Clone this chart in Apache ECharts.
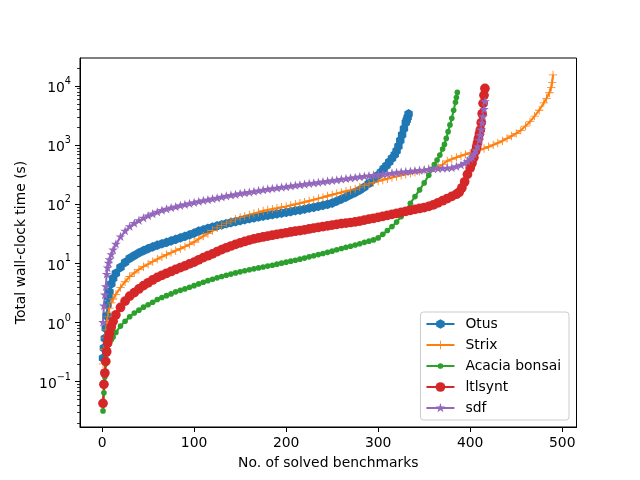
<!DOCTYPE html>
<html>
<head>
<meta charset="utf-8">
<script src="https://cdn.jsdelivr.net/npm/echarts@6/dist/echarts.min.js"></script>
<style>html,body{margin:0;padding:0;background:#fff}#c{width:640px;height:480px}</style>
</head>
<body>
<div id="c"></div>
<script>
const xTicks = [0, 100, 200, 300, 400, 500];
const yTicks = [0.1, 1, 10, 100, 1000, 10000];
const seriesNames = ['Otus', 'Strix', 'Acacia bonsai', 'ltlsynt', 'sdf'];

const otus = [[1,0.25],[2,0.37],[3,0.54],[4,0.8],[5,1.3],[6,2.0],[7,2.7],[8,3.3],[10,4.5],[12,5.6],[15,6.8],[20,8.6],[25,10.4],[30,12.2],[35,13.6],[40,15.1],[45,16.4],[50,17.8],[55,19],[60,20.3],[65,21.5],[70,22.7],[75,24],[80,25.5],[85,27],[90,28.6],[95,30.4],[100,32.5],[105,35],[110,37],[115,39],[120,41],[125,43],[130,45],[135,47],[140,49],[145,51],[150,53],[155,55],[160,57],[165,59],[170,61],[175,63],[180,65],[185,67],[190,69],[195,71],[200,73],[205,75],[210,78],[215,80],[220,83],[225,86],[230,89],[235,92],[240,96],[245,100],[250,105],[255,113],[260,122],[265,132],[270,145],[275,158],[280,174],[285,195],[290,225],[295,265],[300,310],[303,350],[306,400],[309,450],[312,520],[315,600],[318,690],[320,800],[322,960],[324,1200],[326,1500],[328,1900],[330,2400],[331,2650],[332,2950],[333,3370]];

const strix = [[1,0.2],[2,0.35],[3,0.55],[4,0.75],[5,1.0],[6,1.25],[7,1.5],[8,1.75],[10,2.15],[12,2.5],[15,3.0],[20,3.9],[25,4.9],[30,6.0],[35,6.9],[40,7.9],[45,8.8],[50,9.7],[55,10.7],[60,11.8],[65,12.9],[70,14.0],[75,15.2],[80,16.4],[85,17.7],[90,19.2],[95,21],[100,23],[105,26],[110,29],[115,32],[120,36],[125,40],[130,44],[135,48],[140,52],[145,56],[150,60],[155,63],[160,66],[165,70],[170,73],[175,77],[180,80],[185,83],[190,86],[195,89],[200,92],[205,96],[210,100],[215,104],[220,109],[225,114],[230,119],[235,125],[240,131],[245,138],[250,145],[255,152],[260,159],[265,166],[270,173],[275,181],[280,195],[285,210],[290,222],[295,235],[300,247],[305,258],[310,270],[315,283],[320,295],[325,310],[330,322],[335,335],[340,348],[345,362],[350,378],[355,395],[360,410],[365,425],[370,470],[375,540],[380,580],[385,620],[390,660],[395,700],[400,740],[405,785],[410,830],[415,880],[420,940],[425,1010],[430,1090],[435,1180],[440,1300],[445,1430],[450,1580],[455,1780],[460,2100],[465,2500],[470,3100],[475,3900],[480,5200],[483,6200],[486,7700],[488,9500],[489,11500],[490,15400]];

const acacia = [[1,0.032],[2,0.065],[3,0.12],[4,0.2],[5,0.29],[6,0.35],[8,0.44],[10,0.51],[12,0.57],[15,0.68],[20,0.87],[25,1.05],[30,1.25],[35,1.45],[40,1.62],[45,1.82],[50,2.0],[55,2.2],[60,2.45],[65,2.65],[70,2.85],[75,3.05],[80,3.3],[85,3.5],[90,3.7],[95,3.95],[100,4.2],[105,4.5],[110,4.8],[115,5.1],[120,5.4],[125,5.7],[130,6.0],[135,6.3],[140,6.6],[145,6.9],[150,7.2],[155,7.5],[160,7.8],[165,8.1],[170,8.4],[175,8.7],[180,9.0],[185,9.3],[190,9.7],[195,10.1],[200,10.5],[205,10.9],[210,11.3],[215,11.8],[220,12.3],[225,12.9],[230,13.5],[235,14.1],[240,14.7],[245,15.4],[250,16.1],[255,17.0],[260,17.9],[265,18.7],[270,19.5],[275,20.5],[280,21.5],[285,22.7],[290,23.8],[295,25],[300,27],[305,31],[310,36],[315,42],[320,50],[325,62],[330,80],[335,104],[340,135],[345,175],[350,230],[355,310],[358,390],[361,470],[364,560],[367,680],[370,860],[372,1030],[374,1300],[376,1690],[378,2200],[380,2840],[382,3900],[384,5300],[385,6400],[386,7800]];

const ltlsynt = [[1,0.043],[2,0.09],[3,0.14],[4,0.22],[5,0.32],[6,0.45],[7,0.55],[8,0.65],[10,0.85],[12,1.05],[15,1.35],[20,1.8],[25,2.3],[30,2.8],[35,3.2],[40,3.7],[45,4.2],[50,4.7],[55,5.25],[60,5.8],[65,6.3],[70,6.8],[75,7.3],[80,7.9],[85,8.5],[90,9.1],[95,9.8],[100,10.5],[105,11.5],[110,12.5],[115,13.5],[120,14.5],[125,15.8],[130,17.1],[135,18.4],[140,19.7],[145,21],[150,22.2],[155,23.5],[160,24.8],[165,26],[170,27],[175,28],[180,29],[185,30],[190,31],[195,32],[200,33],[205,34],[210,35],[215,36],[220,37],[225,38.2],[230,39.5],[235,40.7],[240,42],[245,43.2],[250,44.5],[255,45.8],[260,47],[265,48],[270,49.2],[275,50.5],[280,52],[285,54],[290,56],[295,58],[300,60],[305,62.5],[310,65],[315,67.5],[320,70],[325,73],[330,76],[335,79],[340,82],[345,85],[350,88],[355,92],[360,98],[365,106],[370,115],[375,125],[380,136],[385,148],[388,160],[391,190],[394,240],[397,320],[400,410],[402,500],[404,620],[406,800],[407,940],[408,1100],[409,1300],[410,1550],[411,1800],[412,2400],[413,3400],[414,5100],[415,7000],[416,9100]];

const sdf = [[1,1.0],[2,1.9],[3,2.9],[4,4.0],[5,6.5],[6,8.3],[7,10],[8,11.5],[10,14],[12,16.8],[15,21],[20,28],[25,35],[30,41.6],[35,47],[40,52.5],[45,58],[50,63],[55,68],[60,73],[65,78],[70,82],[75,86],[80,90],[85,94],[90,98],[95,102],[100,106],[105,110],[110,114],[115,118],[120,122],[125,126],[130,131],[135,136],[140,141],[145,145],[150,150],[155,154],[160,158],[165,163],[170,168],[175,173],[180,178],[185,182],[190,187],[195,192],[200,196],[205,201],[210,206],[215,211],[220,216],[225,221],[230,226],[235,231],[240,237],[245,243],[250,249],[255,255],[260,262],[265,268],[270,274],[275,281],[280,288],[285,295],[290,301],[295,307],[300,313],[305,319],[310,325],[315,332],[320,340],[325,346],[330,352],[335,358],[340,364],[345,370],[350,377],[355,384],[360,391],[365,397],[370,402],[375,405],[380,410],[385,430],[390,455],[394,490],[397,530],[400,580],[402,620],[404,700],[406,800],[408,940],[410,1200],[411,1450],[412,1800],[413,2350],[414,3000],[415,4000],[416,5400]];

const FONT = 'DejaVu Sans';
const FS = 13.9;
const colors = ['#1f77b4', '#ff7f0e', '#2ca02c', '#d62728', '#9467bd'];
// every symbol path carries invisible move-to corners at +-1.15 so that all
// symbols share one bounding box; the visible shape sits inside it
const BOX = 'M-1.15,-1.15M1.15,1.15';
const HEX = 'path://' + BOX + 'M0,-1L0.866,-0.5L0.866,0.5L0,1L-0.866,0.5L-0.866,-0.5Z';
const PLUS = 'path://' + BOX + 'M-0.085,-0.86L0.085,-0.86L0.085,-0.085L0.86,-0.085L0.86,0.085L0.085,0.085L0.085,0.86L-0.085,0.86L-0.085,0.085L-0.86,0.085L-0.86,-0.085L-0.085,-0.085Z';
const DOT = 'path://' + BOX + 'M0.58,0A0.58,0.58,0,1,1,-0.58,0A0.58,0.58,0,1,1,0.58,0Z';
const CIRC = 'path://' + BOX + 'M1,0A1,1,0,1,1,-1,0A1,1,0,1,1,1,0Z';
const STAR = 'path://' + BOX + 'M0,-1.05L0.236,-0.324L0.999,-0.324L0.381,0.124L0.617,0.849L0,0.401L-0.617,0.849L-0.381,0.124L-0.999,-0.324L-0.236,-0.324Z';
const symbols = [HEX, PLUS, DOT, CIRC, STAR];
const SYM = 11.2;
const dataSets = [otus, strix, acacia, ltlsynt, sdf];

const yMinor = [];
for (let e = -2; e <= 4; e++) {
  for (let k = 2; k <= 9; k++) {
    const v = k * Math.pow(10, e);
    if (v > 0.0171 && v < 29800) yMinor.push(v);
  }
}

function supFmt(v) {
  const e = Math.round(Math.log10(v));
  const s = e < 0 ? '\u2212' + (-e) : String(e);
  return '{b|10}{s|' + s + '}';
}

const chart = echarts.init(document.getElementById('c'), null, {renderer: 'canvas'});
chart.setOption({
  animation: false,
  backgroundColor: '#fff',
  textStyle: {fontFamily: FONT},
  grid: {left: 80, right: 63.5, top: 58, bottom: 53, show: true, borderColor: '#000', borderWidth: 1, backgroundColor: 'transparent'},
  legend: {
    orient: 'vertical', right: 71, bottom: 60,
    data: seriesNames,
    itemWidth: 28, itemHeight: 14, itemGap: 7,
    padding: [5, 8, 5, 5],
    backgroundColor: 'rgba(255,255,255,0.8)',
    borderColor: '#cccccc', borderWidth: 1, borderRadius: 3,
    textStyle: {fontFamily: FONT, fontSize: FS, color: '#000', padding: [0, 0, 0, 6]},
    selectedMode: false
  },
  xAxis: {
    type: 'value', min: -24, max: 515.5,
    axisLine: {show: true, onZero: false, lineStyle: {color: '#000', width: 1}},
    axisTick: {show: true, customValues: xTicks, length: 5, lineStyle: {color: '#000', width: 1}},
    axisLabel: {customValues: xTicks, color: '#000', fontSize: FS, fontFamily: FONT, margin: 9},
    splitLine: {show: false},
    name: 'No. of solved benchmarks', nameLocation: 'middle', nameGap: 29,
    nameTextStyle: {fontFamily: FONT, fontSize: FS, color: '#000'}
  },
  yAxis: [{
    type: 'log', logBase: 10, min: 0.0171, max: 29800,
    axisLine: {show: true, onZero: false, lineStyle: {color: '#000', width: 1}},
    axisTick: {show: true, customValues: yTicks, length: 5, lineStyle: {color: '#000', width: 1}},
    axisLabel: {
      customValues: yTicks, color: '#000', margin: 9,
      formatter: supFmt,
      rich: {
        b: {fontFamily: FONT, fontSize: FS, color: '#000', lineHeight: 19, verticalAlign: 'bottom'},
        s: {fontFamily: FONT, fontSize: 9.7, color: '#000', lineHeight: 10, verticalAlign: 'top'}
      }
    },
    splitLine: {show: false},
    name: 'Total wall-clock time (s)', nameLocation: 'middle', nameGap: 46,
    nameTextStyle: {fontFamily: FONT, fontSize: FS, color: '#000'}
  }, {
    type: 'log', logBase: 10, min: 0.0171, max: 29800, position: 'left',
    axisLine: {show: false, onZero: false},
    axisTick: {show: true, customValues: yMinor, length: 3, lineStyle: {color: '#000', width: 0.8}},
    axisLabel: {show: false, customValues: yMinor},
    splitLine: {show: false}
  }],
  series: seriesNames.map((n, i) => ({
    name: n, type: 'line', yAxisIndex: 0,
    data: dataSets[i],
    symbol: symbols[i], symbolSize: SYM,
    showSymbol: true,
    lineStyle: {color: colors[i], width: 2.08},
    itemStyle: {color: colors[i], borderWidth: 0},
    emphasis: {disabled: true},
    silent: true,
    sampling: null
  }))
});
</script>
</body>
</html>
